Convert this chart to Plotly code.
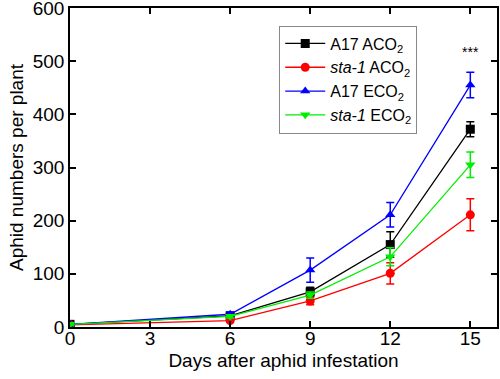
import plotly.graph_objects as go

days = [0, 6, 9, 12, 15]
series_names = ["A17 ACO<sub>2</sub>", "<i>sta-1</i> ACO<sub>2</sub>", "A17 ECO<sub>2</sub>", "<i>sta-1</i> ECO<sub>2</sub>"]
a17_aco2 = [5, 21, 66, 155, 372]
a17_aco2_err = [2, 3, 9, 24, 14]
sta1_aco2 = [4, 12, 49, 101, 211]
sta1_aco2_err = [2, 3, 7, 20, 30]
a17_eco2 = [5, 24, 107, 211, 455]
a17_eco2_err = [2, 4, 23, 23, 24]
sta1_eco2 = [5, 20, 60, 132, 305]
sta1_eco2_err = [2, 3, 6, 17, 24]
colors = ["#000000", "#ff0000", "#0000ff", "#00ee00"]
symbols = ["square", "circle", "triangle-up", "triangle-down"]
x_ticks = [0, 3, 6, 9, 12, 15]
y_ticks = [0, 100, 200, 300, 400, 500, 600]

fig = go.Figure()
for name, vals, errs, c, s in zip(series_names,
                                  [a17_aco2, sta1_aco2, a17_eco2, sta1_eco2],
                                  [a17_aco2_err, sta1_aco2_err, a17_eco2_err, sta1_eco2_err],
                                  colors, symbols):
    fig.add_trace(go.Scatter(
        x=days, y=vals, name=name, mode="lines+markers",
        line=dict(color=c, width=1.3),
        marker=dict(symbol=s, size=9, color=c),
        error_y=dict(type="data", array=errs, color=c, thickness=1.5, width=4),
    ))

fig.add_annotation(x=15, y=518, text="***", showarrow=False,
                   font=dict(size=14, color="black"))

axis_common = dict(showline=True, linecolor="black", linewidth=1.5, mirror="ticks",
                   ticks="inside", ticklen=6, tickcolor="black", tickwidth=1.5,
                   showgrid=False, zeroline=False, automargin=False,
                   ticklabeloverflow="allow",
                   tickfont=dict(size=19, color="black"))
fig.update_xaxes(range=[0, 16], tickvals=x_ticks, ticklabelstandoff=-7,
                 title=dict(text="Days after aphid infestation", font=dict(size=19, color="black"), standoff=6),
                 **axis_common)
fig.update_yaxes(range=[0, 600], tickvals=y_ticks, ticksuffix=" ",
                 title=dict(text="Aphid numbers per plant", font=dict(size=19, color="black"), standoff=4),
                 **axis_common)

fig.update_layout(
    width=500, height=379,
    margin=dict(l=70, r=3, t=8, b=52),
    paper_bgcolor="white", plot_bgcolor="white",
    font=dict(family="Liberation Sans, Arial, sans-serif", color="black"),
    legend=dict(x=0.49, y=0.945, xanchor="left", yanchor="top",
                bordercolor="#888888", borderwidth=1, bgcolor="white",
                font=dict(size=16, color="black"), tracegroupgap=0, itemwidth=40),
)

fig.write_html("out.html", config={"displayModeBar": False},
               post_script="document.body.style.margin='0';document.body.style.overflow='hidden';")
